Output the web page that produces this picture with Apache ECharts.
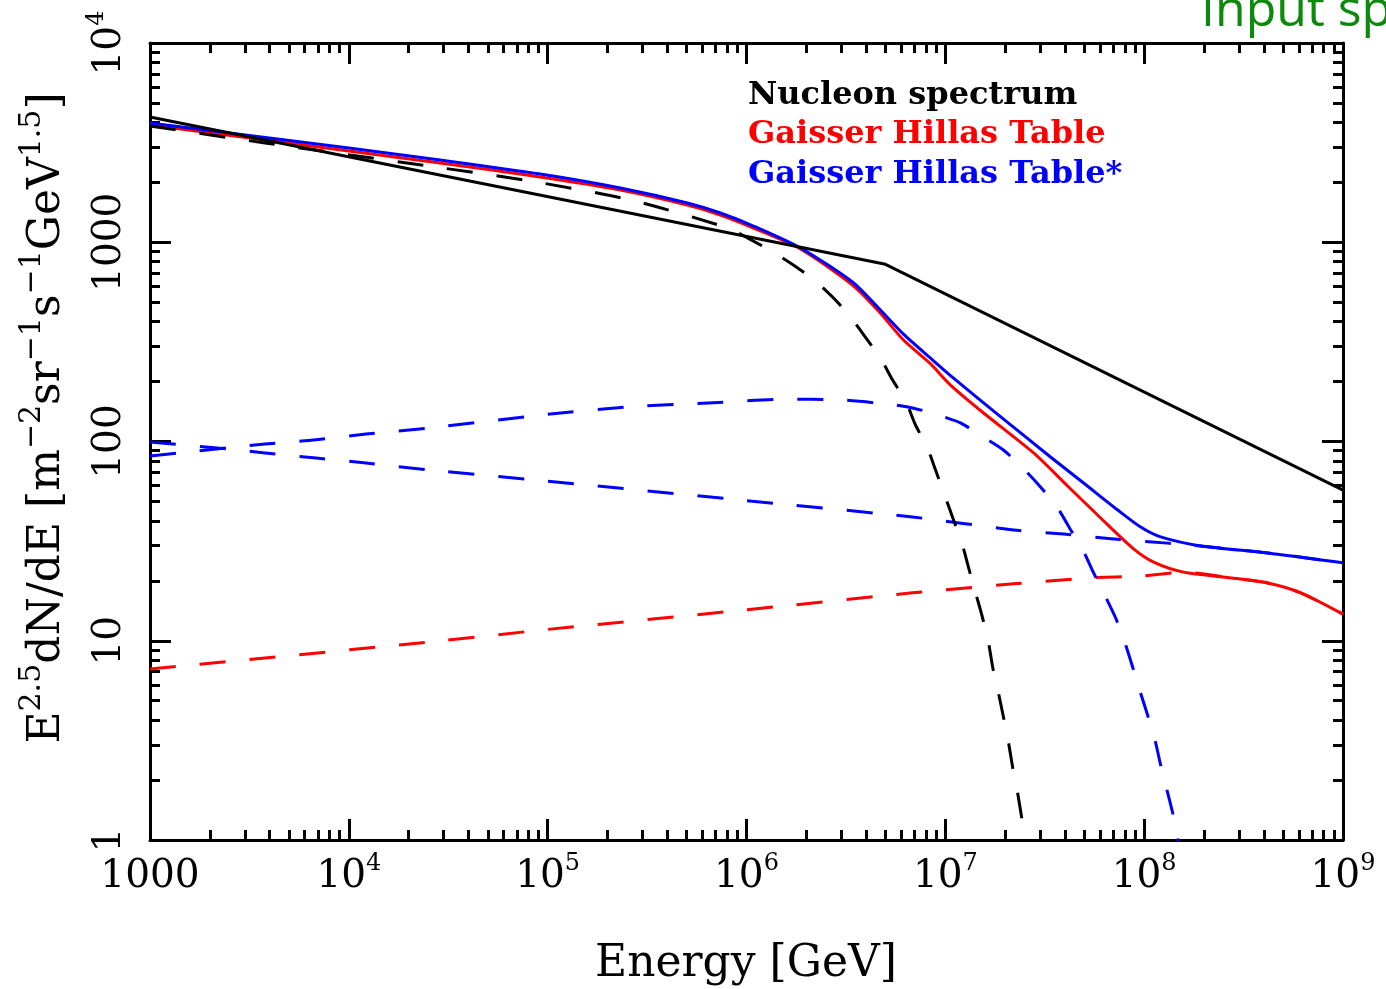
<!DOCTYPE html>
<html>
<head>
<meta charset="utf-8">
<script src="https://cdn.jsdelivr.net/npm/echarts@6/dist/echarts.min.js"></script>
<style>
html,body{margin:0;padding:0;background:#fff;}
#chart{width:1386px;height:989px;}
</style>
</head>
<body>
<div id="chart"></div>
<script>
// ---------- data ----------
const xTickLabels = ['1000', '10^4', '10^5', '10^6', '10^7', '10^8', '10^9'];
const yTickLabels = ['1', '10', '100', '1000', '10^4'];

const legendNames = ['Nucleon spectrum', 'Gaisser Hillas Table', 'Gaisser Hillas Table*'];

// Nucleon spectrum (black solid)
const nucleonE = [1e3, 5.0e6, 1e9];
const nucleonV = [4250, 775, 57];

// black dashed component (cut off near 1e7)
const blackDashE = [1e3, 3.79e3, 2.54e4, 8.17e4, 2.61e5, 8.02e5, 1.05e6, 1.36e6, 1.72e6, 2.22e6, 2.74e6, 3.33e6, 3.96e6, 4.72e6, 5.42e6, 6.31e6, 7.08e6, 8.13e6, 8.93e6, 1.00e7, 1.10e7, 1.22e7, 1.31e7, 1.42e7, 1.54e7, 1.65e7, 1.73e7, 1.85e7, 1.96e7, 2.08e7, 2.18e7, 2.31e7, 2.42e7, 2.54e7, 2.7e7];
const blackDashV = [3830, 3150, 2410, 2030, 1630, 1180, 1030, 893, 769, 639, 525, 422, 334, 262, 204, 160, 121, 92.7, 71.9, 52.6, 40.4, 30.2, 23.2, 17.4, 13.0, 9.75, 7.38, 5.47, 4.14, 3.07, 2.32, 1.72, 1.30, 1.00, 0.75];

// Gaisser Hillas Table (red solid)
const redE = [1e3, 1e4, 2.88e4, 9.18e4, 2.32e5, 5.04e5, 7.39e5, 1.083e6, 1.868e6, 3.41e6, 4.61e6, 6.16e6, 8.43e6, 1.062e7, 1.557e7, 2.78e7, 4.12e7, 6.04e7, 8.85e7, 1.116e8, 1.58e8, 2.82e8, 4.18e8, 6.13e8, 1e9];
const redV = [3878, 2871, 2499, 2126, 1829, 1538, 1370, 1179, 925, 610, 452, 323, 245, 192, 139, 87.6, 59.8, 41.3, 28.9, 24.8, 22.1, 20.6, 19.5, 17.4, 13.6];

// Gaisser Hillas Table* (blue solid)
const blueE = [1e3, 1e4, 2.88e4, 9.18e4, 2.32e5, 5.04e5, 7.39e5, 1.083e6, 1.868e6, 3.41e6, 4.61e6, 6.16e6, 8.43e6, 1.10e7, 1.90e7, 3.38e7, 4.96e7, 7.36e7, 9.60e7, 1.21e8, 1.93e8, 4.18e8, 1e9];
const blueV = [3968, 2972, 2587, 2200, 1872, 1574, 1402, 1206, 936, 632, 468, 346, 262, 208, 133, 83.6, 61.9, 45.3, 37.2, 33.2, 29.9, 27.6, 24.6];

// blue dashed component with a hump
const blueHumpE = [1e3, 1.37e3, 3.79e3, 6.84e3, 1.22e4, 2.56e4, 1e5, 2.51e5, 6.43e5, 1.57e6, 2.86e6, 5.12e6, 6.92e6, 9.14e6, 1.19e7, 1.56e7, 1.96e7, 2.48e7, 3.01e7, 3.67e7, 4.27e7, 4.97e7, 5.57e7, 6.40e7, 7.19e7, 8.07e7, 8.75e7, 9.59e7, 1.04e8, 1.14e8, 1.21e8, 1.31e8, 1.39e8, 1.48e8, 1.6e8];
const blueHumpV = [84.6, 87.5, 97.1, 102, 109, 117, 137, 149, 156, 163, 162, 154, 147, 136, 124, 105, 90.6, 72.8, 59.1, 46.4, 36.0, 27.9, 21.9, 16.6, 13.0, 9.52, 7.38, 5.47, 4.24, 3.10, 2.38, 1.74, 1.37, 1.00, 0.7];

// blue dashed declining component
const blueFallE = [1e3, 2.47e3, 3.79e3, 6.84e3, 1.22e4, 2.56e4, 1e5, 1e6, 6.84e6, 2.20e7, 3.94e7, 7.03e7, 1.31e8, 1.93e8, 4.18e8, 1e9];
const blueFallV = [99.4, 91.7, 87.5, 82.6, 78.0, 71.9, 63.2, 50.5, 41.8, 36.0, 34.3, 32.4, 30.9, 29.9, 27.6, 24.6];

// red dashed rising component
const redRiseE = [1e3, 2.56e4, 1e5, 1e6, 6.84e6, 2.20e7, 5.38e7, 9.59e7, 1.58e8, 2.82e8, 4.18e8, 6.13e8, 1e9];
const redRiseV = [7.21, 9.86, 11.4, 14.3, 17.4, 19.3, 20.7, 21.1, 22.1, 20.6, 19.5, 17.4, 13.6];

// ---------- helpers ----------
function pairs(xs, ys) { return xs.map((x, i) => [x, ys[i]]); }
function toRich(s) {
  const p = s.split('^');
  return p.length > 1 ? '{b|' + p[0] + '}{s|' + p[1] + '}' : '{b|' + s + '}';
}
const tickFont = 'DejaVu Serif';
const labelRich = {
  b: { fontFamily: tickFont, fontSize: 39, lineHeight: 50, color: '#000' },
  s: { fontFamily: tickFont, fontSize: 24, lineHeight: 24, color: '#000', verticalAlign: 'top' }
};
const black = '#000';
function axisCommon(extra) {
  return Object.assign({
    type: 'log', logBase: 10,
    axisLine: { show: true, onZero: false, lineStyle: { color: black, width: 3 } },
    axisTick: { show: true, inside: true, length: 21, lineStyle: { color: black, width: 3 } },
    minorTick: { show: true, splitNumber: 9, length: 10, lineStyle: { color: black, width: 3 } },
    splitLine: { show: false },
    minorSplitLine: { show: false },
    axisLabel: { show: false }
  }, extra);
}

const chart = echarts.init(document.getElementById('chart'), null, { renderer: 'canvas' });

function lineSeries(name, xs, ys, color, dashed, z, smooth) {
  return {
    name: name, type: 'line', data: pairs(xs, ys), showSymbol: false, symbol: 'none',
    smooth: smooth, clip: true, z: z, silent: true,
    lineStyle: { color: color, width: 3, type: dashed ? [26, 24] : 'solid', cap: 'butt', join: 'round' }
  };
}

const option = {
  backgroundColor: '#fff',
  animation: false,
  grid: { left: 150, right: 43, top: 43, bottom: 149, containLabel: false },
  xAxis: [
    axisCommon({
      min: 1e3, max: 1e9, position: 'bottom',
      axisLabel: {
        show: true, margin: 12,
        formatter: function (v) { const i = Math.round(Math.log10(v)) - 3; return toRich(xTickLabels[i] || ''); },
        rich: labelRich
      }
    }),
    axisCommon({ min: 1e3, max: 1e9, position: 'top' })
  ],
  yAxis: [
    axisCommon({
      min: 1, max: 1e4, position: 'left',
      axisLabel: {
        show: true, margin: 15, rotate: 90,
        formatter: function (v) { const i = Math.round(Math.log10(v)); return toRich(yTickLabels[i] || ''); },
        rich: labelRich
      }
    }),
    axisCommon({ min: 1, max: 1e4, position: 'right' })
  ],
  series: [
    lineSeries('red dashed', redRiseE, redRiseV, '#ff0000', true, 2, 0.2),
    lineSeries('blue hump', blueHumpE, blueHumpV, '#0000ff', true, 2, 0.25),
    lineSeries('blue fall', blueFallE, blueFallV, '#0000ff', true, 2, 0.2),
    lineSeries(legendNames[1], redE, redV, '#ff0000', false, 3, 0.25),
    lineSeries(legendNames[2], blueE, blueV, '#0000ff', false, 4, 0.25),
    lineSeries(legendNames[0], nucleonE, nucleonV, black, false, 5, false),
    lineSeries('black dashed', blackDashE, blackDashV, black, true, 6, 0.25)
  ],
  graphic: [
    { type: 'text', left: 748, top: 80, z: 10, style: { text: legendNames[0], fill: '#000', font: 'bold 32px "DejaVu Serif"' } },
    { type: 'text', left: 748, top: 119, z: 10, style: { text: legendNames[1], fill: '#ff0000', font: 'bold 32px "DejaVu Serif"' } },
    { type: 'text', left: 748, top: 159, z: 10, style: { text: legendNames[2], fill: '#0000ff', font: 'bold 32px "DejaVu Serif"' } },
    { type: 'text', x: 746, y: 965, z: 10, style: { text: 'Energy [GeV]', fill: '#000', font: '44px "DejaVu Serif"', align: 'center', verticalAlign: 'middle' } },
    {
      type: 'text', x: 48, y: 418, rotation: Math.PI / 2, z: 10,
      style: {
        text: '{b|E}{s|2.5}{b|dN/dE [m}{s|−2}{b|sr}{s|−1}{b|s}{s|−1}{b|GeV}{s|1.5}{b|]}',
        align: 'center', verticalAlign: 'middle',
        rich: {
          b: { fontFamily: 'DejaVu Serif', fontSize: 44, lineHeight: 62, fill: '#000' },
          s: { fontFamily: 'DejaVu Serif', fontSize: 30, lineHeight: 30, fill: '#000', verticalAlign: 'top' }
        }
      }
    },
    { type: 'text', x: 1201, y: 12, z: 10, style: { text: 'Input spectra', fill: '#0b8a0b', font: '50px "Open Sans"', align: 'left', verticalAlign: 'middle' } }
  ]
};
chart.setOption(option);
</script>
</body>
</html>
